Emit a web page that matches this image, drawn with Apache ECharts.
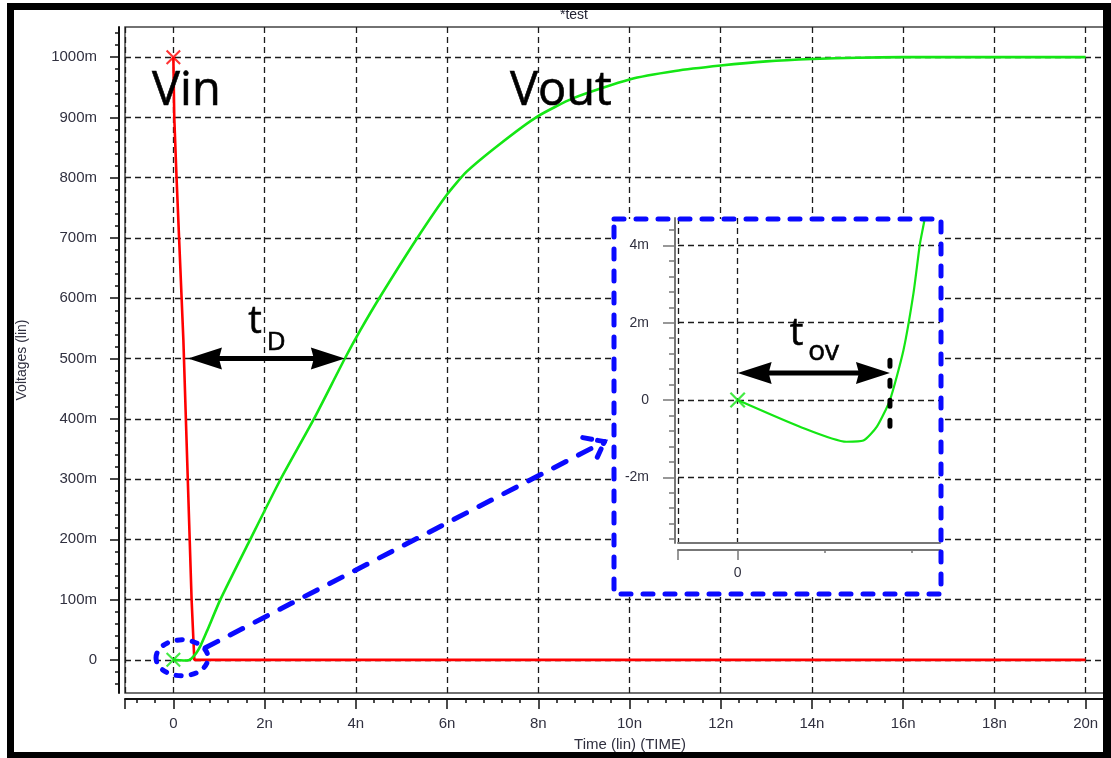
<!DOCTYPE html>
<html><head><meta charset="utf-8">
<script src="https://cdn.jsdelivr.net/npm/echarts@6/dist/echarts.min.js"></script>
<style>html,body{margin:0;padding:0;background:#fff;overflow:hidden}#c{width:1111px;height:758px}</style>
</head><body><div id="c"></div>
<script>
// ---------------- data (time in ns, voltage in mV) ----------------
const vinT  = [0, 0.02, 0.07, 0.22, 0.40, 0.44, 0.46, 20];
const vinV  = [1000, 900, 800, 530, 100, 33, 0, 0];
const voutT = [0, 0.143, 0.25, 0.289, 0.32, 0.35, 0.381, 0.404, 0.419, 0.43, 0.5, 0.6, 0.75, 1.03, 1.68, 2.34, 3.07, 3.76, 4.1, 4.53, 5.34, 6.0, 6.43, 7.16, 7.97, 8.77, 10, 11, 12, 13, 14, 15, 16, 20];
const voutV = [0, -0.69, -1.08, -1.05, -0.69, 0, 1.29, 2.76, 4.05, 4.71, 11, 24, 50, 100, 199, 298, 398, 500, 547, 602, 699, 772, 810, 856, 901, 932, 963, 977, 986, 993, 997, 999, 1000, 1000];

// tick labels
const xTickVals  = [0, 2, 4, 6, 8, 10, 12, 14, 16, 18, 20];          // "0", "2n", ...
const yTickVals  = [0, 100, 200, 300, 400, 500, 600, 700, 800, 900, 1000]; // "0", "100m", ...
const insetYTickVals = [-2, 0, 2, 4];                                 // "-2m" .. "4m"
const insetXTickVals = [0];
const insetXMinorTicks = [0.2, 0.4];

// annotation anchors (data coordinates)
const tdArrow   = [[0.32, 500], [3.76, 500]];
const tovArrow  = [[0, 0.70], [0.35, 0.70]];
const tovMarker = [[0.35, 1.03], [0.35, -0.78]];
const zoomRing  = [0.19, 3.3];
const zoomPointer = [[0.70, 20], [9.45, 362]];
const vinLabelPos  = [-0.467, 942];
const voutLabelPos = [7.38, 943];
const tdTPos = [1.64, 560], tdSubPos = [2.05, 527];
const tovTPos = [0.12, 1.70], tovSubPos = [0.162, 1.24];

// ---------------- layout ----------------
const xMin = -1.06, xMax = 20.556, yMin = -55, yMax = 1050;
const ixMin = -0.137, ixMax = 0.465, iyMin = -3.70, iyMax = 4.71;
const FONT = 'Liberation Sans';
const LBL = '#30303f';
const GRIDC = '#1c1c1c';

function steps(a, b, s) { const r = []; for (let v = a; v <= b + 1e-9; v += s) r.push(+v.toFixed(4)); return r; }
const pts = (xs, ys) => xs.map((x, i) => [x, ys[i]]);
const mFmt = v => (Math.abs(v) < 1e-9 ? '0' : v + 'm');
const nFmt = v => (Math.abs(v) < 1e-9 ? '0' : v + 'n');
const X_PATH = 'path://M0,1L1,0L5,4L9,0L10,1L6,5L10,9L9,10L5,6L1,10L0,9L4,5Z';

const chart = echarts.init(document.getElementById('c'), null, { renderer: 'canvas' });

const split = { show: true, lineStyle: { color: GRIDC, type: [6, 4], width: 1.3 } };
const noSplit = { show: false };

const option = {
  animation: false,
  backgroundColor: '#fff',
  grid: [
    { left: 125, top: 27, width: 986, height: 666, show: true, borderColor: '#444', borderWidth: 1.5, backgroundColor: 'transparent' },
    { left: 678, top: 218, width: 262, height: 325, show: false }
  ],
  xAxis: [
    { // 0 main major
      type: 'value', gridIndex: 0, min: xMin, max: xMax, position: 'bottom', offset: 6,
      axisLine: { show: true, onZero: false, lineStyle: { color: '#111', width: 2 } },
      axisTick: { show: true, length: 10, customValues: [xMin].concat(xTickVals), lineStyle: { color: '#111', width: 1.5 } },
      axisLabel: { show: true, customValues: xTickVals, formatter: nFmt, margin: 17, color: LBL, fontFamily: FONT, fontSize: 15 },
      splitLine: split,
      name: 'Time (lin) (TIME)', nameLocation: 'middle', nameGap: 38,
      nameTextStyle: { color: LBL, fontFamily: FONT, fontSize: 15, padding: [0, 0, 0, 24] }
    },
    { // 1 main minor
      type: 'value', gridIndex: 0, min: xMin, max: xMax, position: 'bottom', offset: 6,
      axisLine: { show: false, onZero: false },
      axisTick: { show: true, length: 4, customValues: steps(-0.8, 20.4, 0.4), lineStyle: { color: '#111', width: 1.5 } },
      axisLabel: { show: false }, splitLine: noSplit
    },
    { // 2 inset plot bottom line
      type: 'value', gridIndex: 1, min: ixMin, max: ixMax, position: 'bottom', offset: 0, z: 3,
      axisLine: { show: true, onZero: false, lineStyle: { color: '#777', width: 2 } },
      axisTick: { show: false }, axisLabel: { show: false }, splitLine: noSplit
    },
    { // 3 inset major
      type: 'value', gridIndex: 1, min: ixMin, max: ixMax, position: 'bottom', offset: 7, z: 3,
      axisLine: { show: true, onZero: false, lineStyle: { color: '#777', width: 2 } },
      axisTick: { show: true, length: 10, customValues: [ixMin].concat(insetXTickVals), lineStyle: { color: '#777', width: 1.5 } },
      axisLabel: { show: true, customValues: insetXTickVals, formatter: nFmt, margin: 16, color: LBL, fontFamily: FONT, fontSize: 14 },
      splitLine: split
    },
    { // 4 inset minor
      type: 'value', gridIndex: 1, min: ixMin, max: ixMax, position: 'bottom', offset: 7, z: 3,
      axisLine: { show: false, onZero: false },
      axisTick: { show: true, length: 3, customValues: insetXMinorTicks, lineStyle: { color: '#777', width: 1.5 } },
      axisLabel: { show: false }, splitLine: noSplit
    }
  ],
  yAxis: [
    { // 0 main major
      type: 'value', gridIndex: 0, min: yMin, max: yMax, position: 'left', offset: 6,
      axisLine: { show: true, onZero: false, lineStyle: { color: '#111', width: 2 } },
      axisTick: { show: true, length: 9, customValues: yTickVals, lineStyle: { color: '#111', width: 1.5 } },
      axisLabel: { show: true, customValues: yTickVals, formatter: mFmt, margin: 22, color: LBL, fontFamily: FONT, fontSize: 15 },
      splitLine: split,
      name: 'Voltages (lin)', nameLocation: 'middle', nameGap: 90, nameRotate: 90,
      nameTextStyle: { color: LBL, fontFamily: FONT, fontSize: 14 }
    },
    { // 1 main minor
      type: 'value', gridIndex: 0, min: yMin, max: yMax, position: 'left', offset: 6,
      axisLine: { show: false, onZero: false },
      axisTick: { show: true, length: 4, customValues: steps(-40, 1040, 20), lineStyle: { color: '#111', width: 1.5 } },
      axisLabel: { show: false }, splitLine: noSplit
    },
    { // 2 inset major
      type: 'value', gridIndex: 1, min: iyMin, max: iyMax, position: 'left', offset: 3, z: 3,
      axisLine: { show: true, onZero: false, lineStyle: { color: '#777', width: 2 } },
      axisTick: { show: true, length: 12, customValues: insetYTickVals, lineStyle: { color: '#777', width: 1.5 } },
      axisLabel: { show: true, customValues: insetYTickVals, formatter: mFmt, margin: 26, color: LBL, fontFamily: FONT, fontSize: 14 },
      splitLine: split
    },
    { // 3 inset minor
      type: 'value', gridIndex: 1, min: iyMin, max: iyMax, position: 'left', offset: 3, z: 3,
      axisLine: { show: false, onZero: false },
      axisTick: { show: true, length: 6, customValues: steps(-3.6, 4.4, 0.4), lineStyle: { color: '#777', width: 1.5 } },
      axisLabel: { show: false }, splitLine: noSplit
    }
  ],
  series: [
    { name: 'Vin', type: 'line', xAxisIndex: 0, yAxisIndex: 0, data: pts(vinT, vinV), showSymbol: false,
      lineStyle: { color: '#ff0000', width: 2.6 }, z: 2 },
    { name: 'Vout', type: 'line', xAxisIndex: 0, yAxisIndex: 0, data: pts(voutT, voutV), showSymbol: false,
      smooth: 0.2, lineStyle: { color: '#14e614', width: 2.6 }, z: 2 },
    { name: 'Vin start', type: 'scatter', xAxisIndex: 0, yAxisIndex: 0, data: [[vinT[0], vinV[0]]],
      symbol: X_PATH, symbolSize: 15, itemStyle: { color: '#ff0000' }, z: 3 },
    { name: 'Vout start', type: 'scatter', xAxisIndex: 0, yAxisIndex: 0, data: [[voutT[0], voutV[0]]],
      symbol: X_PATH, symbolSize: 15, itemStyle: { color: '#14e614' }, z: 3 },
    { name: 'Vout zoom', type: 'line', xAxisIndex: 3, yAxisIndex: 2, data: pts(voutT, voutV), showSymbol: false, clip: true,
      smooth: 0.2, lineStyle: { color: '#14e614', width: 2.2 }, z: 4 },
    { name: 'Vout zoom start', type: 'scatter', xAxisIndex: 3, yAxisIndex: 2, data: [[voutT[0], voutV[0]]],
      symbol: X_PATH, symbolSize: 16, itemStyle: { color: '#14e614' }, z: 5 }
  ]
};
chart.setOption(option);

// ---------------- annotations ----------------
const P  = p => chart.convertToPixel({ xAxisIndex: 0, yAxisIndex: 0 }, p);
const PI = p => chart.convertToPixel({ xAxisIndex: 3, yAxisIndex: 2 }, p);

function dblArrow(a, b, z) {
  const L = 34, H = 11, y = a[1];
  return [
    { type: 'line', z, shape: { x1: a[0] + L - 6, y1: y, x2: b[0] - L + 6, y2: y }, style: { stroke: '#000', lineWidth: 5 } },
    { type: 'polygon', z, shape: { points: [[a[0], y], [a[0] + L, y - H], [a[0] + L - 3, y], [a[0] + L, y + H]] }, style: { fill: '#000' } },
    { type: 'polygon', z, shape: { points: [[b[0], y], [b[0] - L, y - H], [b[0] - L + 3, y], [b[0] - L, y + H]] }, style: { fill: '#000' } }
  ];
}
function label(text, p, size, z) {
  return { type: 'text', z, x: p[0], y: p[1],
    style: { text, fontFamily: 'Open Sans', fontSize: size, fill: '#000', stroke: '#000', lineWidth: 0.6, align: 'left', verticalAlign: 'middle' } };
}

const BLUE = '#0a0aff';
const blueDash = { stroke: BLUE, fill: null, lineWidth: 5, lineDash: [10, 12], lineCap: 'round' };
const inset = { x: 614, y: 219, w: 327, h: 375 };

const td1 = P(tdArrow[0]), td2 = P(tdArrow[1]);
const tv1 = PI(tovArrow[0]), tv2 = PI(tovArrow[1]);
const tm1 = PI(tovMarker[0]), tm2 = PI(tovMarker[1]);
const ring = P(zoomRing);
const zp1 = P(zoomPointer[0]), zp2 = P(zoomPointer[1]);
// chevron arrowhead along pointer direction
const dx = zp2[0] - zp1[0], dy = zp2[1] - zp1[1], dl = Math.hypot(dx, dy);
const bx = -dx / dl, by = -dy / dl, ang = 38 * Math.PI / 180, AL = 22;
const arm = s => [zp2[0] + AL * (bx * Math.cos(s * ang) - by * Math.sin(s * ang)),
                  zp2[1] + AL * (bx * Math.sin(s * ang) + by * Math.cos(s * ang))];

const FR = '#000';
const graphic = [
  // title
  { type: 'text', z: 8, x: 574, y: 15, style: { text: '*test', fontFamily: FONT, fontSize: 14, fill: '#223', align: 'center', verticalAlign: 'middle' } },
  // inset white background
  { type: 'rect', z: 1, shape: { x: inset.x, y: inset.y, width: inset.w, height: inset.h }, style: { fill: '#fff' } },
  // inset dashed blue frame
  { type: 'rect', z: 6, shape: { x: inset.x, y: inset.y, width: inset.w, height: inset.h }, style: blueDash },
  // ring around origin and pointer to inset
  { type: 'ellipse', z: 6, shape: { cx: ring[0], cy: ring[1], rx: 26, ry: 18 }, style: Object.assign({}, blueDash, { lineDash: [5, 10] }) },
  { type: 'line', z: 6, shape: { x1: zp1[0], y1: zp1[1], x2: zp2[0], y2: zp2[1] }, style: Object.assign({}, blueDash, { lineDash: [14, 14] }) },
  { type: 'polyline', z: 6, shape: { points: [arm(1), zp2, arm(-1)] }, style: Object.assign({}, blueDash, { lineDash: [9, 6] }) },
  // text labels
  label('Vin', P(vinLabelPos), 47, 7),
  label('Vout', P(voutLabelPos), 47, 7),
  label('t', P(tdTPos), 38, 7),
  label('D', P(tdSubPos), 26, 7),
  label('t', PI(tovTPos), 38, 7),
  label('ov', PI(tovSubPos), 28, 7),
  // t_ov marker line
  { type: 'line', z: 7, shape: { x1: tm1[0], y1: tm1[1], x2: tm2[0], y2: tm2[1] }, style: { stroke: '#000', lineWidth: 5, lineDash: [6, 14], lineCap: 'round' } },
  // outer frame (four bands)
  { type: 'rect', z: 10, shape: { x: 7, y: 3, width: 1104, height: 7 }, style: { fill: FR } },
  { type: 'rect', z: 10, shape: { x: 7, y: 752, width: 1104, height: 6 }, style: { fill: FR } },
  { type: 'rect', z: 10, shape: { x: 7, y: 3, width: 7, height: 755 }, style: { fill: FR } },
  { type: 'rect', z: 10, shape: { x: 1103, y: 3, width: 8, height: 755 }, style: { fill: FR } },
  { type: 'rect', z: 9, shape: { x: 0, y: 0, width: 7, height: 758 }, style: { fill: '#fff' } },
  { type: 'rect', z: 9, shape: { x: 0, y: 0, width: 1111, height: 3 }, style: { fill: '#fff' } }
].concat(dblArrow(td1, td2, 7), dblArrow(tv1, tv2, 7));

chart.setOption({ graphic });
</script>
</body></html>
